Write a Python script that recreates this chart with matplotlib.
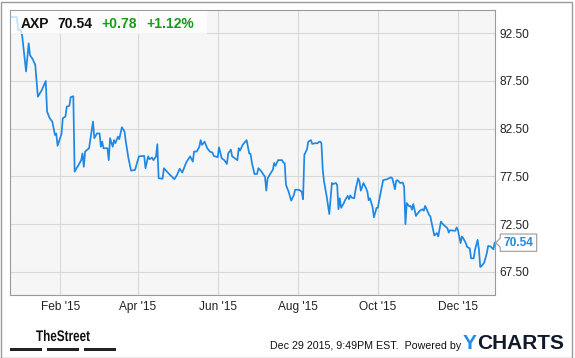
import numpy as np
import matplotlib
matplotlib.use('Agg')
import matplotlib.pyplot as plt
from matplotlib.dates import date2num
from matplotlib.patches import Rectangle, Polygon, PathPatch
from matplotlib.textpath import TextPath
from matplotlib.font_manager import FontProperties
from matplotlib.transforms import Affine2D

plt.rcParams['font.family'] = ['Liberation Sans', 'DejaVu Sans']

# AXP daily close (day 0 = 2015-01-01)
day_offsets = [-7, -2, -1, 1, 2, 5, 7, 8, 10, 12, 14, 17, 20, 21, 23, 25, 27, 28, 29, 32,
               33, 35, 36, 38, 39, 41, 42, 45, 47, 48, 49, 50, 53, 56, 57, 59, 61, 62, 63, 64,
               67, 68, 69, 71, 72, 73, 75, 76, 77, 78, 80, 81, 83, 85, 88, 91, 95, 96, 98, 99,
               101, 102, 104, 105, 106, 109, 110, 114, 118, 120, 122, 124, 127, 130, 132, 133, 135, 137, 138, 139,
               141, 143, 145, 147, 148, 151, 152, 154, 156, 158, 159, 161, 162, 165, 166, 167, 168, 170, 171, 173,
               175, 176, 177, 179, 181, 182, 184, 186, 187, 188, 189, 193, 194, 195, 197, 200, 201, 202, 203, 205,
               207, 209, 210, 213, 215, 216, 217, 219, 220, 222, 223, 225, 227, 228, 229, 230, 231, 232, 234, 236,
               238, 239, 241, 242, 243, 244, 245, 247, 248, 250, 251, 252, 253, 255, 256, 258, 259, 260, 261, 262,
               264, 265, 266, 267, 269, 270, 272, 273, 274, 276, 277, 280, 283, 284, 286, 287, 288, 290, 292, 293,
               294, 295, 296, 297, 298, 299, 300, 302, 303, 305, 307, 308, 309, 311, 312, 313, 314, 316, 318, 319,
               321, 323, 324, 326, 327, 328, 331, 332, 333, 334, 335, 336, 337, 338, 340, 341, 343, 344, 346, 347,
               349, 350, 351, 352, 354, 356, 357, 359, 361, 362]
prices = [94.2, 94.2, 92.85, 92.85, 92.3, 88.5, 91.45, 90.2, 89.8, 89.2, 85.85, 86.55, 87.5, 84.3, 83.6, 83.24, 81.84, 82.0, 80.7, 81.95,
          83.6, 83.76, 84.8, 84.9, 85.8, 85.9, 78.0, 78.7, 79.2, 79.9, 78.5, 80.1, 80.45, 83.24, 81.5, 82.0, 82.0, 80.6, 81.14, 80.45,
          80.45, 79.2, 81.5, 80.6, 81.3, 80.97, 81.66, 81.4, 82.0, 82.65, 82.2, 81.14, 79.4, 78.1, 78.17, 79.6, 79.64, 78.35, 79.6, 79.3,
          79.46, 79.2, 79.57, 80.87, 77.3, 77.25, 78.35, 77.75, 77.2, 77.65, 78.3, 77.9, 78.95, 79.6, 79.04, 80.1, 80.1, 80.6, 81.3, 80.8,
          81.14, 80.45, 80.1, 79.99, 79.64, 79.5, 80.55, 79.4, 79.2, 78.8, 79.9, 80.3, 79.6, 79.3, 79.2, 80.45, 80.2, 80.8, 80.97, 81.3,
          79.9, 79.85, 78.95, 77.75, 77.75, 78.35, 78.07, 77.65, 77.47, 76.0, 77.3, 78.2, 78.9, 78.6, 79.2, 79.2, 78.95, 78.88, 76.6, 75.9,
          74.95, 75.55, 76.1, 76.08, 75.9, 75.1, 79.75, 80.34, 81.14, 81.3, 80.9, 80.97, 80.97, 81.1, 81.14, 80.97, 78.2, 76.95, 75.4, 73.55,
          76.8, 76.7, 76.8, 76.6, 74.05, 75.2, 74.2, 74.68, 75.0, 75.45, 75.1, 75.5, 75.27, 75.2, 76.1, 77.3, 76.95, 76.0, 76.36, 76.8,
          76.25, 75.9, 75.0, 75.2, 74.25, 73.2, 74.2, 74.2, 75.0, 76.4, 77.1, 77.2, 77.4, 77.3, 76.15, 77.05, 77.1, 76.8, 76.85, 76.4,
          72.5, 74.7, 74.5, 74.35, 74.4, 74.0, 74.6, 73.35, 73.56, 73.9, 74.05, 73.9, 74.4, 73.8, 73.46, 73.3, 72.6, 71.3, 71.55, 71.2,
          72.75, 72.41, 72.3, 72.06, 71.6, 71.85, 71.8, 71.8, 72.15, 71.85, 71.2, 70.5, 71.2, 71.02, 70.5, 70.1, 69.95, 68.9, 68.9, 69.8,
          70.84, 69.8, 68.0, 68.1, 68.45, 69.45, 70.2, 70.14, 69.85, 70.54]

ticker = 'AXP'
last_price = '70.54'
change = '+0.78'
change_pct = '+1.12%'
y_ticks = [67.5, 72.5, 77.5, 82.5, 87.5, 92.5]
x_tick_dates = ['2015-02-01', '2015-04-01', '2015-06-01', '2015-08-01', '2015-10-01', '2015-12-01']
x_tick_labels = ["Feb '15", "Apr '15", "Jun '15", "Aug '15", "Oct '15", "Dec '15"]
stamp = 'Dec 29 2015, 9:49PM EST.  Powered by'

dates = np.datetime64('2015-01-01') + np.array(day_offsets).astype('timedelta64[D]')

W, H = 575, 358
blue = '#1e88e5'
green = '#169b16'
fig = plt.figure(figsize=(W / 100, H / 100), dpi=100)
fig.patch.set_facecolor('white')

ax = fig.add_axes([10.3 / W, 1 - 295 / H, 484.4 / W, 285 / H])
ax.set_facecolor('#f6f6f6')
ax.plot(dates, prices, color=blue, lw=1.25, zorder=2)
ax.set_xlim(dates[0], dates[-1])
ax.set_ylim(65.06, 94.94)

ax.yaxis.tick_right()
ax.set_yticks(y_ticks)
ax.set_yticklabels(['%.2f' % v for v in y_ticks])
ax.set_xticks(np.array(x_tick_dates, dtype='datetime64[D]'))
ax.set_xticklabels(x_tick_labels)
ax.grid(True, color='#d8d8d8', lw=0.8)
ax.set_axisbelow(True)
ax.tick_params(axis='both', length=0, labelsize=8.6, colors='#222222')
ax.tick_params(axis='y', pad=3.5)
ax.tick_params(axis='x', pad=4.5)
for s in ax.spines.values():
    s.set_color('#9a9a9a')
    s.set_linewidth(0.8)

# outer frame
fig.add_artist(Rectangle((0.5, 0.5), 571, 356, transform=None, fill=False,
                         edgecolor='#9a9a9a', lw=1.0))

# header box with quote
fig.add_artist(Rectangle((10.8, 324), 196, 23.5, transform=None, facecolor='white',
                         edgecolor='none', alpha=0.75, zorder=3))
base = 1 - 28.3 / H
fig.text(21 / W, base, ticker, fontsize=10, weight='bold', color='#111111', zorder=4)
fig.text(57.7 / W, base, last_price, fontsize=10, weight='bold', color='#111111', zorder=4)
fig.text(101.7 / W, base, change, fontsize=10, weight='bold', color=green, zorder=4)
fig.text(146.7 / W, base, change_pct, fontsize=10, weight='bold', color=green, zorder=4)

# last price callout
tx, ty = ax.transData.transform((date2num(dates[-1]), prices[-1]))
tx += 1
callout = Polygon([(tx, ty), (tx + 4.5, ty + 4.5), (tx + 4.5, ty + 8.7), (tx + 41, ty + 8.7),
                   (tx + 41, ty - 8.6), (tx + 4.5, ty - 8.6), (tx + 4.5, ty - 4.5)],
                  closed=True, transform=None, facecolor='white', edgecolor='#9a9a9a', lw=0.8)
fig.add_artist(callout)
fig.text((tx + 7.5) / W, ty / H, last_price, fontsize=8.6, weight='bold', color=blue,
         va='center', ha='left')

# footer: condensed "TheStreet" wordmark
tp = TextPath((0, 0), 'TheStreet', size=15.4,
              prop=FontProperties(family='Liberation Sans', weight='bold'))
fig.add_artist(PathPatch(tp, transform=Affine2D().scale(0.76, 1).translate(36, H - 341),
                         facecolor='#111111', edgecolor='none'))
for x0, x1 in [(10, 42), (47, 79), (83.6, 116)]:
    fig.add_artist(Rectangle((x0, 7.3), x1 - x0, 3, transform=None, facecolor='#222222',
                             edgecolor='none'))

fig.text(269.5 / W, 1 - 349 / H, stamp, fontsize=7.7, color='#111111')
y_t = fig.text(462.8 / W, 1 - 349 / H, 'Y', fontsize=15, weight='bold', color='#1e8ee6')
fig.canvas.draw()
bb = y_t.get_window_extent()
fig.text(bb.x1 / W, 1 - 349 / H, 'CHARTS', fontsize=15, weight='bold', color='#121a2a')

fig.savefig('out.png', dpi=100)
